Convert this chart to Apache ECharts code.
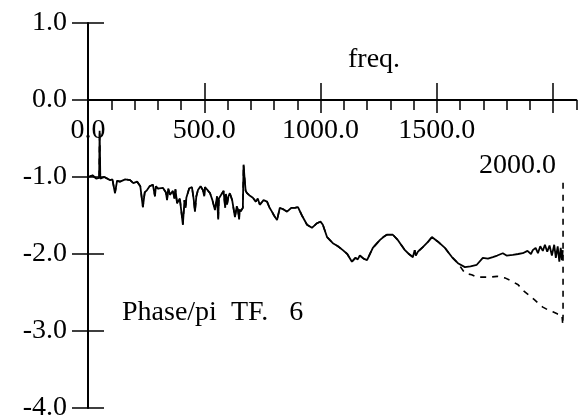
<!DOCTYPE html>
<html>
<head>
<meta charset="utf-8">
<script src="https://cdn.jsdelivr.net/npm/echarts@6/dist/echarts.min.js"></script>
<style>html,body{margin:0;padding:0;background:#fff}#c{width:583px;height:418px}</style>
</head>
<body>
<div id="c"></div>
<script>
// ---- data (freq, phase/pi) ----
const xMajorTicks = [0, 500, 1000, 1500, 2000];
const xLabelValues = [0, 500, 1000, 1500];
const yTicks = [1, 0, -1, -2, -3, -4];
const commonPts = [[0,-1.00],[20,-0.98],[35,-1.02],[48,-1.01],[50,-0.40],[53,-1.02],[70,-1.00],[95,-1.04],[105,-1.03],[116,-1.21],[125,-1.05],[138,-1.06],[160,-1.03],[181,-1.04],[195,-1.08],[211,-1.06],[225,-1.12],[236,-1.39],[244,-1.20],[254,-1.17],[265,-1.12],[279,-1.10],[288,-1.25],[292,-1.12],[300,-1.15],[322,-1.14],[335,-1.20],[340,-1.30],[345,-1.15],[353,-1.23],[365,-1.18],[372,-1.28],[376,-1.16],[383,-1.34],[395,-1.28],[408,-1.62],[415,-1.30],[420,-1.40],[423,-1.27],[426,-1.26],[435,-1.15],[447,-1.13],[455,-1.30],[460,-1.45],[466,-1.25],[473,-1.17],[484,-1.12],[494,-1.17],[500,-1.25],[503,-1.13],[510,-1.14],[525,-1.21],[535,-1.30],[546,-1.43],[555,-1.25],[560,-1.55],[563,-1.28],[568,-1.26],[583,-1.18],[590,-1.40],[593,-1.22],[598,-1.36],[604,-1.25],[610,-1.21],[620,-1.30],[632,-1.52],[640,-1.38],[645,-1.43],[650,-1.55],[652,-1.42],[656,-1.45],[666,-1.40],[669,-0.84],[673,-1.00],[678,-1.18],[684,-1.21],[695,-1.24],[709,-1.27],[722,-1.32],[730,-1.28],[739,-1.36],[755,-1.30],[770,-1.32],[781,-1.40],[791,-1.45],[800,-1.50],[813,-1.56],[825,-1.40],[840,-1.42],[856,-1.45],[875,-1.40],[890,-1.40],[903,-1.39],[920,-1.50],[942,-1.62],[963,-1.66],[985,-1.60],[1000,-1.58],[1010,-1.62],[1028,-1.78],[1053,-1.86],[1075,-1.90],[1096,-1.95],[1115,-2.00],[1135,-2.10],[1150,-2.05],[1160,-2.07],[1169,-2.02],[1185,-2.06],[1200,-2.08],[1225,-1.92],[1255,-1.82],[1270,-1.78],[1285,-1.75],[1311,-1.75],[1333,-1.82],[1363,-1.95],[1380,-2.00],[1397,-2.04],[1405,-1.95],[1410,-2.02],[1419,-1.97],[1440,-1.91],[1460,-1.85],[1479,-1.78],[1505,-1.84],[1535,-1.92],[1550,-1.98],[1565,-2.04],[1591,-2.12]];
const solidTail = [[1621,-2.17],[1645,-2.16],[1672,-2.14],[1698,-2.05],[1720,-2.06],[1741,-2.04],[1760,-2.02],[1784,-1.99],[1800,-2.02],[1827,-2.01],[1850,-2.00],[1870,-1.99],[1890,-1.96],[1905,-2.00],[1913,-1.95],[1925,-1.92],[1935,-1.99],[1945,-1.90],[1956,-1.96],[1965,-1.88],[1975,-1.97],[1985,-1.89],[1995,-2.02],[2005,-1.88],[2012,-2.05],[2020,-1.90],[2027,-2.10],[2033,-1.92],[2038,-2.08],[2042,-1.95]];
const dashedHead = [[0,1.00],[0,-1.00]];
const dashedTail = [[1621,-2.25],[1650,-2.27],[1672,-2.30],[1700,-2.30],[1728,-2.30],[1760,-2.29],[1793,-2.31],[1827,-2.36],[1850,-2.40],[1870,-2.47],[1895,-2.53],[1922,-2.60],[1940,-2.65],[1956,-2.69],[1975,-2.72],[1999,-2.75],[2020,-2.78],[2038,-2.79],[2042,-2.92],[2043,-2.80],[2043,-1.02]];
const xLabelText = 'freq.';
const yLabelText = 'Phase/pi  TF.   6';
const lastTickLabel = '2000.0';

const solidPts = commonPts.concat(solidTail);
const dashedPts = dashedHead.concat(commonPts, dashedTail);

const FONT = 'Liberation Serif';
const TOP = 23, BOTTOM_PX = 408, YMAX = 1, YMIN = -4;
// vertical offset that puts the bottom x axis on the value 0 line
const zeroOffset = -((BOTTOM_PX - TOP) * (0 - YMIN) / (YMAX - YMIN));
const chart = echarts.init(document.getElementById('c'), null, {renderer: 'canvas'});
const xBase = {type: 'value', min: 0, max: 2100, splitLine: {show: false}, gridIndex: 0, position: 'bottom', offset: zeroOffset};
const yBase = {type: 'value', min: YMIN, max: YMAX, interval: 1, splitLine: {show: false}, gridIndex: 0, position: 'left', offset: 0};
chart.setOption({
  animation: false,
  backgroundColor: '#fff',
  grid: {left: 88, top: TOP, right: 6.7, bottom: 418 - BOTTOM_PX, containLabel: false, outerBoundsMode: 'none'},
  xAxis: [
    Object.assign({}, xBase, {
      interval: 100,
      axisLine: {show: true, onZero: false, lineStyle: {color: '#000', width: 2}},
      axisTick: {show: true, length: 10, lineStyle: {color: '#000', width: 1.5}},
      axisLabel: {show: true, customValues: xLabelValues, formatter: v => v.toFixed(1), margin: 17,
        color: '#000', fontFamily: FONT, fontSize: 28}
    }),
    Object.assign({}, xBase, {
      interval: 500,
      axisLine: {show: false, onZero: false},
      axisTick: {show: true, inside: true, length: 17, customValues: xMajorTicks.slice(1), lineStyle: {color: '#000', width: 1.5}},
      axisLabel: {show: false}
    }),
    Object.assign({}, xBase, {
      interval: 500,
      axisLine: {show: false, onZero: false},
      axisTick: {show: true, length: 13, customValues: xMajorTicks.slice(1), lineStyle: {color: '#000', width: 1.5}},
      axisLabel: {show: false}
    })
  ],
  yAxis: [
    Object.assign({}, yBase, {
      axisLine: {show: true, onZero: false, lineStyle: {color: '#000', width: 2}},
      axisTick: {show: true, length: 16, customValues: yTicks, lineStyle: {color: '#000', width: 1.5}},
      axisLabel: {show: true, customValues: yTicks, formatter: v => v.toFixed(1), margin: 21,
        color: '#000', fontFamily: FONT, fontSize: 28}
    }),
    Object.assign({}, yBase, {
      axisLine: {show: false, onZero: false},
      axisTick: {show: true, inside: true, length: 16, customValues: yTicks.filter(v => v !== 0), lineStyle: {color: '#000', width: 1.5}},
      axisLabel: {show: false}
    })
  ],
  series: [
    {type: 'line', data: solidPts, xAxisIndex: 0, yAxisIndex: 0, showSymbol: false, symbol: 'none',
      lineStyle: {color: '#000', width: 1.8}, z: 3},
    {type: 'line', data: dashedPts, xAxisIndex: 0, yAxisIndex: 0, showSymbol: false, symbol: 'none',
      lineStyle: {color: '#000', width: 1.6, type: [6, 6]}, z: 2}
  ],
  graphic: [
    {type: 'text', left: 348, top: 46, style: {text: xLabelText, fontFamily: FONT, fontSize: 28, fill: '#000'}},
    {type: 'text', left: 122, top: 299, style: {text: yLabelText, fontFamily: FONT, fontSize: 28, fill: '#000'}},
    {type: 'text', right: 27, top: 152, style: {text: lastTickLabel, fontFamily: FONT, fontSize: 28, fill: '#000'}}
  ]
});
</script>
</body>
</html>
